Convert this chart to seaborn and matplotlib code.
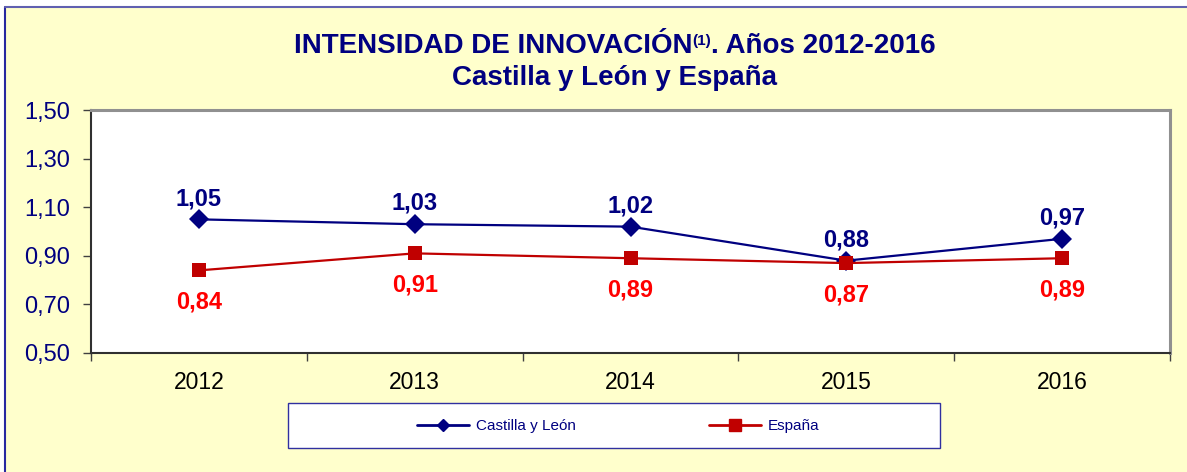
import pandas as pd
import seaborn as sns
import matplotlib.pyplot as plt
from matplotlib.patches import Rectangle
from matplotlib.lines import Line2D
from matplotlib.ticker import FixedLocator, FuncFormatter

# Datos
years = ["2012", "2013", "2014", "2015", "2016"]
castilla_leon = [1.05, 1.03, 1.02, 0.88, 0.97]
espana = [0.84, 0.91, 0.89, 0.87, 0.89]
y_ticks = [0.50, 0.70, 0.90, 1.10, 1.30, 1.50]

NAVY = "#000080"
DARKRED = "#C00000"
RED = "#FF0000"
BG = "#FFFFCC"
W, H = 1187, 472

sns.set_theme(style="white")
plt.rcParams["font.family"] = ["Liberation Sans", "DejaVu Sans"]

df = pd.DataFrame({"Año": years * 2,
                   "valor": castilla_leon + espana,
                   "serie": ["Castilla y León"] * 5 + ["España"] * 5})

fig = plt.figure(figsize=(W / 100, H / 100), dpi=100, facecolor="white")

# Fondo amarillo con borde superior e izquierdo
fig.patches.append(Rectangle((5 / W, 0), 1, 1 - 7 / H, transform=fig.transFigure,
                             facecolor=BG, edgecolor="none", zorder=-5))
fig.lines.append(Line2D([5 / W, 5 / W], [0, 1 - 7 / H], transform=fig.transFigure,
                        color="#2828A0", linewidth=1.5, zorder=-4))
fig.lines.append(Line2D([5 / W, 1], [1 - 7 / H, 1 - 7 / H], transform=fig.transFigure,
                        color="#6060B0", linewidth=1.5, zorder=-4))

ax = fig.add_axes([91 / W, 1 - 353 / H, (1170 - 91) / W, (353 - 110) / H])
ax.set_facecolor("white")

sns.lineplot(data=df, x="Año", y="valor", hue="serie", style="serie",
             palette={"Castilla y León": NAVY, "España": DARKRED},
             markers={"Castilla y León": "D", "España": "s"},
             dashes=False, linewidth=1.6, markersize=10, markeredgewidth=0,
             ax=ax, legend=False)

# Etiquetas de datos
for i, v in enumerate(castilla_leon):
    ax.annotate(f"{v:.2f}".replace(".", ","), (i, v), xytext=(0, 15),
                textcoords="offset points", ha="center", va="center",
                color=NAVY, fontsize=17, fontweight="bold")
for i, v in enumerate(espana):
    ax.annotate(f"{v:.2f}".replace(".", ","), (i, v), xytext=(0, -23),
                textcoords="offset points", ha="center", va="center",
                color=RED, fontsize=17, fontweight="bold")

ax.set_xlim(-0.5, 4.5)
ax.set_ylim(0.5, 1.5)
ax.set_xlabel("")
ax.set_ylabel("")
ax.yaxis.set_major_locator(FixedLocator(y_ticks))
ax.yaxis.set_major_formatter(FuncFormatter(lambda v, p: f"{v:.2f}".replace(".", ",")))
ax.set_xticks(range(len(years)))
ax.set_xticklabels(years)
ax.set_xticks([i - 0.5 for i in range(len(years) + 1)], minor=True)
ax.tick_params(axis="x", which="major", length=0, pad=13, labelsize=16.5, labelcolor="black")
ax.tick_params(axis="x", which="minor", length=6, width=1, color="#404040", direction="out", bottom=True)
ax.tick_params(axis="y", length=6, width=1, color="#404040", direction="out", left=True,
               labelsize=17, labelcolor=NAVY, pad=9)

for side in ["left", "bottom"]:
    ax.spines[side].set_color("#303030")
    ax.spines[side].set_linewidth(1.5)
for side in ["top", "right"]:
    ax.spines[side].set_color("#909090")
    ax.spines[side].set_linewidth(2.2)

# Título con superíndice
fig.canvas.draw()
r = fig.canvas.get_renderer()
parts = [("INTENSIDAD DE INNOVACIÓN", 20, 0), ("(1)", 11, 8), (". Años 2012-2016", 20, 0)]
texts = []
for s, fs, dy in parts:
    t = fig.text(0, 0, s, fontsize=fs, fontweight="bold", color=NAVY, va="baseline")
    texts.append((t, dy))
widths = [t.get_window_extent(r).width for t, _ in texts]
x = 615 - sum(widths) / 2
for (t, dy), w in zip(texts, widths):
    t.set_position((x / W, 1 - (53 - dy) / H))
    x += w
fig.text(615 / W, 1 - 85 / H, "Castilla y León y España", fontsize=20,
         fontweight="bold", color=NAVY, ha="center", va="baseline")

# Leyenda (marco dibujado aparte)
fig.patches.append(Rectangle((288 / W, 1 - 448 / H), (940 - 288) / W, 45 / H,
                             transform=fig.transFigure, facecolor="white",
                             edgecolor="#3030A0", linewidth=1, zorder=1))
handles = [Line2D([], [], color=NAVY, marker="D", markersize=6, linewidth=2),
           Line2D([], [], color=DARKRED, marker="s", markersize=8, linewidth=2)]
leg = fig.legend(handles, ["Castilla y León", "España"], ncol=2,
                 loc="center", bbox_to_anchor=(618 / W, 1 - 426 / H),
                 frameon=False, fontsize=11, handlelength=3.4, handletextpad=0.45,
                 columnspacing=8.7)
leg.set_zorder(2)
for txt in leg.get_texts():
    txt.set_color(NAVY)

fig.savefig("out.png", dpi=100, facecolor="white")
